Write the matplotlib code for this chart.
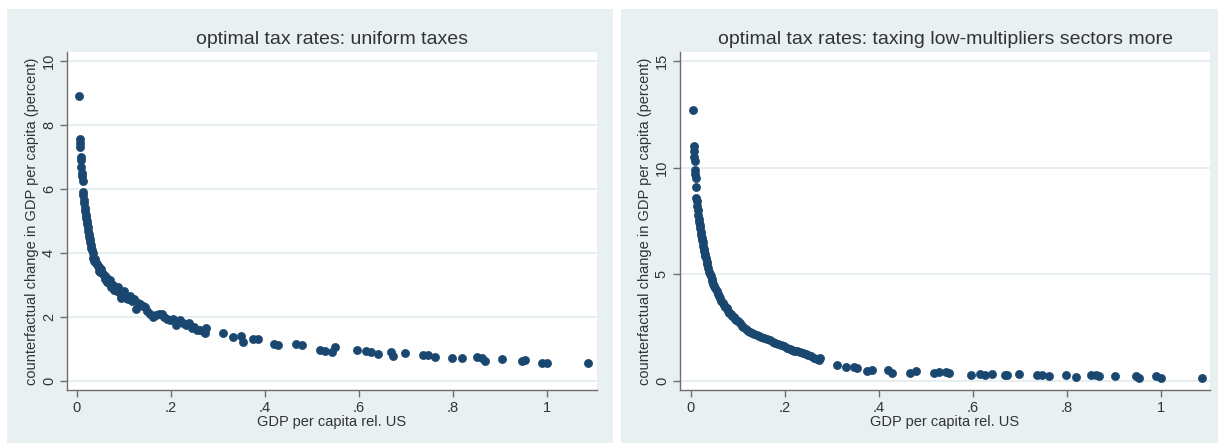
import matplotlib
matplotlib.use("Agg")
import matplotlib.pyplot as plt
from matplotlib.patches import Rectangle

# GDP per capita relative to US (shared by both panels)
gdp_rel = [0.004, 0.006, 0.007, 0.007, 0.008, 0.009, 0.009, 0.010, 0.011, 0.012,
           0.013, 0.014, 0.015, 0.016, 0.017, 0.018, 0.019, 0.020, 0.021, 0.022,
           0.023, 0.024, 0.025, 0.026, 0.027, 0.028, 0.030, 0.031, 0.032, 0.034,
           0.035, 0.037, 0.039, 0.040, 0.042, 0.044, 0.046, 0.048, 0.050, 0.052,
           0.055, 0.057, 0.060, 0.062, 0.065, 0.068, 0.070, 0.073, 0.076, 0.079,
           0.082, 0.085, 0.088, 0.091, 0.094, 0.097, 0.100, 0.104, 0.108, 0.112,
           0.117, 0.122, 0.126, 0.130, 0.135, 0.140, 0.145, 0.150, 0.156, 0.162,
           0.168, 0.174, 0.180, 0.186, 0.192, 0.198, 0.204, 0.210, 0.215, 0.220,
           0.226, 0.232, 0.238, 0.244, 0.250, 0.256, 0.262, 0.268, 0.273, 0.275,
           0.310, 0.331, 0.348, 0.354, 0.374, 0.386, 0.419, 0.428, 0.467, 0.478,
           0.517, 0.528, 0.542, 0.549, 0.596, 0.615, 0.625, 0.640, 0.668, 0.672,
           0.698, 0.737, 0.747, 0.762, 0.797, 0.818, 0.850, 0.861, 0.868, 0.903,
           0.946, 0.953, 0.990, 1.000, 1.087]

# counterfactual change in GDP per capita, uniform taxes
uniform = [8.9, 7.55, 7.45, 7.3, 7.0, 6.9, 6.7, 6.5, 6.4, 6.25,
           5.9, 5.8, 5.65, 5.55, 5.4, 5.3, 5.2, 5.1, 5.0, 4.9,
           4.8, 4.7, 4.6, 4.5, 4.45, 4.35, 4.25, 4.15, 4.1, 4.0,
           3.85, 3.75, 3.8, 3.7, 3.65, 3.6, 3.55, 3.45, 3.4, 3.5,
           3.35, 3.3, 3.2, 3.25, 3.1, 3.05, 3.15, 2.95, 3.0, 2.85,
           2.9, 2.8, 2.95, 2.75, 2.6, 2.7, 2.8, 2.6, 2.55, 2.65,
           2.5, 2.55, 2.25, 2.45, 2.4, 2.35, 2.3, 2.2, 2.1, 2.0,
           2.05, 2.1, 2.1, 2.0, 1.95, 1.9, 1.95, 1.75, 1.85, 1.9,
           1.8, 1.75, 1.8, 1.65, 1.7, 1.6, 1.6, 1.55, 1.5, 1.65,
           1.49, 1.38, 1.41, 1.23, 1.30, 1.30, 1.16, 1.13, 1.16, 1.13,
           0.97, 0.95, 0.92, 1.05, 0.97, 0.95, 0.92, 0.85, 0.92, 0.78,
           0.87, 0.80, 0.80, 0.76, 0.71, 0.71, 0.74, 0.71, 0.62, 0.68,
           0.63, 0.66, 0.57, 0.57, 0.57]

# counterfactual change in GDP per capita, taxing low-multiplier sectors more
targeted = [12.7, 11.0, 10.8, 10.5, 10.3, 9.9, 9.7, 9.5, 9.1, 8.6,
            8.45, 8.2, 8.0, 7.8, 7.6, 7.45, 7.3, 7.15, 7.0, 6.85,
            6.7, 6.6, 6.5, 6.35, 6.2, 6.1, 5.95, 5.85, 5.75, 5.6,
            5.5, 5.3, 5.1, 5.0, 4.9, 4.8, 4.7, 4.55, 4.45, 4.35,
            4.2, 4.1, 4.0, 3.9, 3.75, 3.65, 3.55, 3.45, 3.4, 3.3,
            3.2, 3.15, 3.05, 3.0, 2.9, 2.85, 2.8, 2.7, 2.6, 2.55,
            2.45, 2.35, 2.3, 2.25, 2.2, 2.15, 2.1, 2.05, 2.0, 1.95,
            1.9, 1.85, 1.8, 1.75, 1.7, 1.65, 1.55, 1.5, 1.45, 1.4,
            1.4, 1.35, 1.3, 1.25, 1.2, 1.15, 1.1, 1.05, 1.0, 1.1,
            0.75, 0.67, 0.64, 0.60, 0.48, 0.52, 0.52, 0.39, 0.39, 0.48,
            0.39, 0.44, 0.44, 0.39, 0.30, 0.35, 0.30, 0.35, 0.30, 0.30,
            0.32, 0.28, 0.28, 0.22, 0.28, 0.20, 0.26, 0.26, 0.22, 0.22,
            0.22, 0.15, 0.22, 0.15, 0.15]

x_ticks = [0, 0.2, 0.4, 0.6, 0.8, 1.0]
x_ticklabels = ["0", ".2", ".4", ".6", ".8", "1"]
titles = ["optimal tax rates: uniform taxes",
          "optimal tax rates: taxing low-multipliers sectors more"]
y_ticks = [[0, 2, 4, 6, 8, 10], [0, 5, 10, 15]]

plt.rcParams["font.family"] = ["Liberation Sans", "DejaVu Sans"]

W, H = 1218, 445
fig = plt.figure(figsize=(W / 100, H / 100), dpi=100)
fig.patch.set_facecolor("white")

navy = "#1a476f"
region = "#e8f0f2"
grid = "#e2ebee"
ink = "#333333"

# light graph regions behind each panel (pixel boxes converted to figure fractions)
for x0, x1 in [(7, 613), (621, 1218)]:
    fig.add_artist(Rectangle((x0 / W, 1 - 443 / H), (x1 - x0) / W, (443 - 9) / H,
                             transform=fig.transFigure, facecolor=region,
                             edgecolor="none", zorder=0))

boxes = [(67, 597, -0.021, 1.106, (-0.28, 10.28)),
         (680, 1210, -0.023, 1.104, (-0.42, 15.42))]

for i, (px0, px1, xl0, xl1, ylim) in enumerate(boxes):
    ax = fig.add_axes([px0 / W, 1 - 390 / H, (px1 - px0) / W, (390 - 52) / H])
    ax.set_facecolor("white")
    yvals = uniform if i == 0 else targeted
    ax.scatter(gdp_rel, yvals, s=34, color=navy, edgecolors=navy,
               linewidths=0.5, zorder=3)
    ax.set_xlim(xl0, xl1)
    ax.set_ylim(*ylim)
    ax.set_xticks(x_ticks)
    ax.set_xticklabels(x_ticklabels)
    ax.set_yticks(y_ticks[i])
    ax.set_yticklabels([str(v) for v in y_ticks[i]], rotation=90, va="center")
    for v in y_ticks[i]:
        ax.axhline(v, color=grid, linewidth=1.2, zorder=1)
    for side in ["top", "right"]:
        ax.spines[side].set_visible(False)
    for side in ["left", "bottom"]:
        ax.spines[side].set_color("#6e6e6e")
        ax.spines[side].set_linewidth(1.0)
    ax.tick_params(axis="both", direction="out", length=5, width=1,
                   color="#6e6e6e", labelcolor=ink, labelsize=10.5)
    ax.tick_params(axis="x", pad=3)
    ax.tick_params(axis="y", pad=3)
    ax.set_xlabel("GDP per capita rel. US", fontsize=10.5, color=ink, labelpad=0)
    ax.set_ylabel("counterfactual change in GDP per capita (percent)",
                  fontsize=10.5, color=ink, labelpad=2)
    ax.set_title(titles[i], fontsize=14, color=ink, pad=6)

fig.savefig("out.png", dpi=100, facecolor="white")
